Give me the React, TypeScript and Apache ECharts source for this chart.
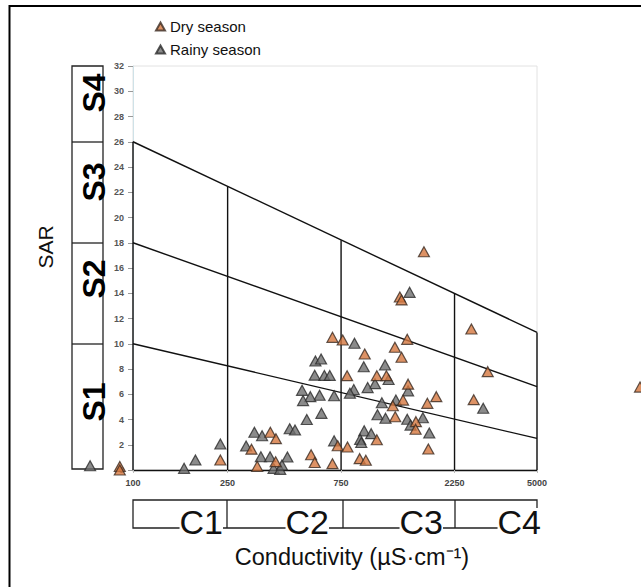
import { useEffect, useRef } from "react";
import * as echarts from "echarts";

// Axis ticks
const xTicks = [100, 250, 750, 2250, 5000];
const yMin = 0;
const yMax = 32;
const yStep = 2;

// Dry season samples: conductivity (µS/cm) and SAR
const dryEC = [1673, 1325, 1347, 2649, 3103, 2709, 690, 762, 943, 1423, 1263, 1347, 795, 1060, 1163, 1435, 1886, 1729, 1367, 1238, 1267, 1548, 1543, 1746, 1060, 726, 798, 898, 953, 561, 581, 690, 378, 399, 315, 398, 333, 233, 88, 88, 13560];
const drySAR = [17.29, 13.7, 13.47, 11.17, 7.79, 5.57, 10.51, 10.3, 9.19, 10.35, 9.72, 8.93, 7.47, 7.47, 7.47, 6.8, 5.81, 5.28, 5.54, 5.09, 4.22, 3.83, 3.23, 1.66, 2.4, 1.92, 1.82, 0.9, 0.77, 1.21, 0.59, 0.5, 2.99, 2.48, 1.65, 0.66, 0.29, 0.79, 0.28, 0.0, 6.57];

// Rainy season samples
const rainyEC = [1456, 2970, 854, 585, 618, 934, 1148, 581, 638, 672, 1188, 1042, 970, 1435, 1275, 1113, 848, 817, 701, 609, 557, 519, 514, 620, 538, 1067, 1153, 1423, 1656, 1470, 1762, 938, 1004, 902, 912, 701, 456, 480, 324, 349, 299, 345, 377, 446, 390, 416, 423, 233, 183, 164, 66];
const rainySAR = [14.07, 4.89, 10.04, 8.63, 8.79, 8.18, 8.32, 7.51, 7.49, 7.49, 7.17, 6.84, 6.53, 6.27, 5.54, 5.33, 6.37, 6.08, 5.88, 5.92, 5.81, 5.5, 6.31, 4.49, 4.0, 4.38, 4.1, 4.02, 4.14, 3.56, 2.93, 3.1, 2.88, 2.43, 2.18, 2.31, 3.27, 3.17, 2.99, 2.71, 1.9, 1.05, 1.05, 1.03, 0.13, 0.05, 0.4, 2.06, 0.79, 0.13, 0.34];

// Class boundary lines (SAR at EC = 100 and EC = 5000)
const boundaryEC = [100, 5000];
const boundaryS4S3 = [26, 10.9];
const boundaryS3S2 = [18, 6.6];
const boundaryS2S1 = [10, 2.5];
// Conductivity class dividers and the SAR where they meet the top line
const dividerEC = [250, 750, 2250, 5000];
const dividerTop = [22.5, 18.2, 14.0, 10.9];

const sClasses = ["S4", "S3", "S2", "S1"];
const cClasses = ["C1", "C2", "C3", "C4"];
const legendNames = ["Dry season", "Rainy season"];

const FONT = "'Liberation Sans', Arial, Helvetica, sans-serif";

export default function App() {
  const ref = useRef<HTMLDivElement>(null);

  useEffect(() => {
    const chart = echarts.init(ref.current!, null, { renderer: "svg" });

    const lineSeries = (data: number[][]) => ({
      type: "line",
      data,
      symbol: "none",
      silent: true,
      z: 2,
      lineStyle: { color: "#111", width: 1.4 },
    });

    const series: any[] = [
      lineSeries(boundaryEC.map((x, i) => [x, boundaryS4S3[i]])),
      lineSeries(boundaryEC.map((x, i) => [x, boundaryS3S2[i]])),
      lineSeries(boundaryEC.map((x, i) => [x, boundaryS2S1[i]])),
      lineSeries([[boundaryEC[0], 0], [boundaryEC[0], boundaryS4S3[0]]]),
      ...dividerEC.map((x, i) => lineSeries([[x, 0], [x, dividerTop[i]]])),
      {
        name: legendNames[1],
        type: "scatter",
        clip: false,
        symbol: "triangle",
        symbolSize: [11, 10],
        z: 3,
        itemStyle: { color: "#6e6e6e", borderColor: "#2b2b2b", borderWidth: 1.2 },
        data: rainyEC.map((x, i) => [x, rainySAR[i]]),
      },
      {
        name: legendNames[0],
        type: "scatter",
        clip: false,
        symbol: "triangle",
        symbolSize: [11, 10],
        z: 4,
        itemStyle: { color: "#d4773f", borderColor: "#3a2a22", borderWidth: 1.2 },
        data: dryEC.map((x, i) => [x, drySAR[i]]),
      },
    ];

    const sRowTops = [66, 142, 243, 344];
    const sLabelY = [93, 182, 279, 402];
    const cDividerX = [227, 343, 455];
    const cLabelRight = [223, 329, 443, 541];

    const graphic: any[] = [
      // outer frame
      {
        type: "rect",
        shape: { x: 9.5, y: 6, width: 700, height: 700 },
        style: { fill: "none", stroke: "#000", lineWidth: 2 },
        silent: true,
      },
      // S column
      {
        type: "rect",
        shape: { x: 72, y: 66, width: 31, height: 403 },
        style: { fill: "none", stroke: "#222", lineWidth: 1.3 },
        silent: true,
      },
      ...sRowTops.slice(1).map((y) => ({
        type: "line",
        shape: { x1: 72, y1: y, x2: 103, y2: y },
        style: { stroke: "#222", lineWidth: 1.3 },
        silent: true,
      })),
      ...sClasses.map((t, i) => ({
        type: "text",
        x: 94,
        y: sLabelY[i],
        rotation: Math.PI / 2,
        z: 10,
        style: {
          text: t,
          fontSize: 32,
          fontWeight: "bold",
          fontFamily: FONT,
          fill: "#000",
          align: "center",
          verticalAlign: "middle",
        },
        silent: true,
      })),
      // C row
      {
        type: "rect",
        shape: { x: 133, y: 500, width: 404, height: 28 },
        style: { fill: "none", stroke: "#222", lineWidth: 1.3 },
        silent: true,
      },
      ...cDividerX.map((x) => ({
        type: "line",
        shape: { x1: x, y1: 500, x2: x, y2: 528 },
        style: { stroke: "#222", lineWidth: 1.3 },
        silent: true,
      })),
      ...cClasses.map((t, i) => ({
        type: "text",
        x: cLabelRight[i],
        y: 522,
        z: 10,
        style: {
          text: t,
          fontSize: 34,
          fontFamily: FONT,
          fill: "#111",
          align: "right",
          verticalAlign: "middle",
          lineHeight: 28,
          backgroundColor: "#fff",
        },
        silent: true,
      })),
      // Axis titles
      {
        type: "text",
        x: 352,
        y: 557,
        style: {
          text: "Conductivity (µS·cm⁻¹)",
          fontSize: 23.5,
          fontFamily: FONT,
          fill: "#111",
          align: "center",
          verticalAlign: "middle",
        },
        silent: true,
      },
      {
        type: "text",
        x: 45,
        y: 247,
        rotation: Math.PI / 2,
        style: {
          text: "SAR",
          fontSize: 21,
          fontFamily: FONT,
          fill: "#111",
          align: "center",
          verticalAlign: "middle",
        },
        silent: true,
      },
    ];

    chart.setOption({
      animation: false,
      backgroundColor: "#fff",
      grid: {
        left: 133,
        right: 104,
        top: 66,
        bottom: 117,
        show: true,
        borderColor: "#e2e2e2",
        borderWidth: 1,
      },
      legend: {
        data: legendNames,
        orient: "vertical",
        left: 150,
        top: 14,
        itemWidth: 9,
        itemHeight: 8,
        itemGap: 8,
        selectedMode: false,
        textStyle: { fontSize: 15, fontFamily: FONT, color: "#111" },
      },
      xAxis: {
        type: "log",
        logBase: 10,
        min: xTicks[0],
        max: xTicks[xTicks.length - 1],
        axisLine: { show: true, lineStyle: { color: "#111", width: 1.4 } },
        axisTick: { show: true, length: 3, customValues: xTicks, lineStyle: { color: "#bbb" } },
        minorTick: { show: false },
        splitLine: { show: false },
        axisLabel: {
          customValues: xTicks,
          margin: 8,
          fontSize: 9,
          fontWeight: "bold",
          color: "#444",
          fontFamily: FONT,
          formatter: (v: number) => String(Math.round(v)),
        },
      },
      yAxis: {
        type: "value",
        min: yMin,
        max: yMax,
        interval: yStep,
        axisLine: { show: true, lineStyle: { color: "#cfe2e8", width: 1 } },
        axisTick: { show: true, length: 5, lineStyle: { color: "#999" } },
        splitLine: { show: false },
        axisLabel: {
          margin: 9,
          fontSize: 9,
          fontWeight: "bold",
          color: "#555",
          fontFamily: FONT,
        },
      },
      series,
      graphic,
    });

    return () => chart.dispose();
  }, []);

  return (
    <div
      ref={ref}
      style={{ position: "fixed", left: 0, top: 0, width: 641, height: 587, background: "#fff" }}
    />
  );
}
